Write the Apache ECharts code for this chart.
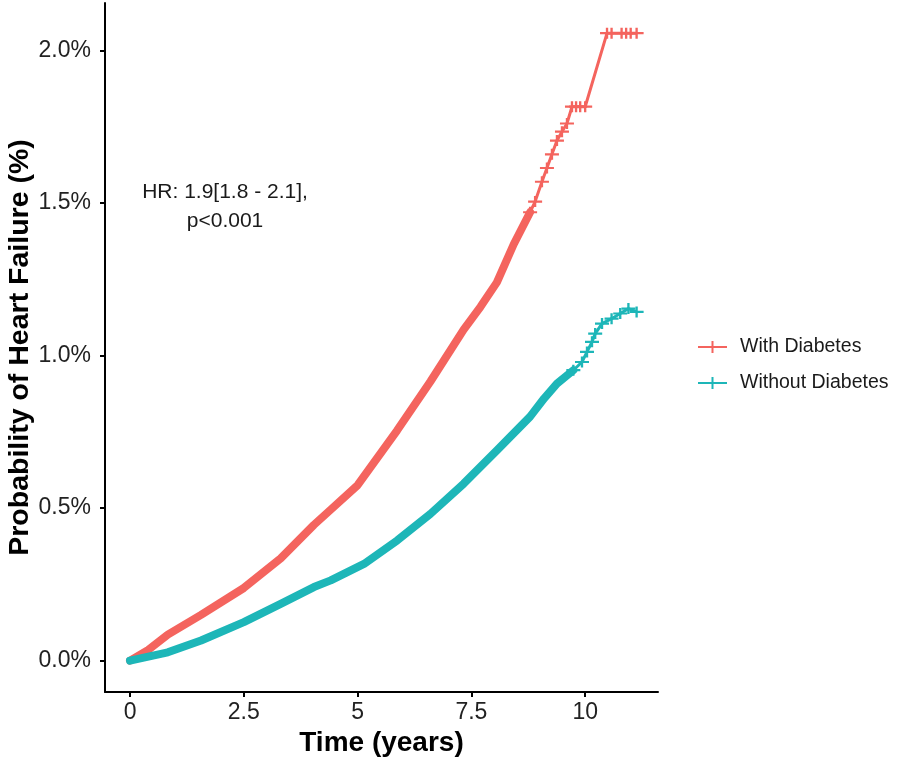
<!DOCTYPE html>
<html>
<head>
<meta charset="utf-8">
<script src="https://cdn.jsdelivr.net/npm/echarts@6/dist/echarts.min.js"></script>
<style>
  html, body { margin: 0; padding: 0; background: #fff; }
  #chart { width: 898px; height: 763px; }
</style>
</head>
<body>
<div id="chart"></div>
<script>
// series names and axis ticks
var seriesNames = ['With Diabetes', 'Without Diabetes'];
var xTicks = [0, 2.5, 5, 7.5, 10];
var yTicks = [0, 0.5, 1, 1.5, 2];

// [time (years), cumulative probability (%)]
// dense part of each curve (many censor marks -> thick band)
var withBand = [
    [0, 0], [0.4, 0.035], [0.83, 0.085], [1.56, 0.15], [2.5, 0.238], [3.31, 0.335],
    [4.04, 0.445], [4.41, 0.495], [5.0, 0.575], [5.87, 0.755], [6.6, 0.915], [7.33, 1.085],
    [7.7, 1.16], [8.06, 1.24], [8.43, 1.365], [8.79, 1.47]
];
var withTail = [
    [8.79, 1.47], [8.9, 1.505], [9.05, 1.57], [9.16, 1.615], [9.27, 1.66], [9.38, 1.705],
    [9.49, 1.734], [9.6, 1.761], [9.71, 1.816], [9.8, 1.816], [9.89, 1.816], [10.0, 1.816],
    [10.48, 2.057], [10.58, 2.057], [10.8, 2.057], [10.9, 2.057], [11.0, 2.057], [11.13, 2.057]
];
var withoutBand = [
    [0, 0], [0.83, 0.027], [1.56, 0.066], [2.5, 0.126], [3.31, 0.186], [4.04, 0.241],
    [4.41, 0.263], [5.14, 0.317], [5.87, 0.394], [6.6, 0.481], [7.33, 0.58], [8.06, 0.689],
    [8.79, 0.8], [9.1, 0.86], [9.38, 0.908], [9.74, 0.952]
];
var withoutTail = [
    [9.74, 0.952], [9.93, 0.979], [10.04, 1.012], [10.15, 1.045], [10.22, 1.072], [10.37, 1.105],
    [10.58, 1.121], [10.77, 1.138], [10.95, 1.154], [11.13, 1.143]
];

var colors = ['#F4645E', '#1DB6B8'];
var font = 'Liberation Sans, Arial, Helvetica, sans-serif';
var plus = 'path://M0,4 H12 V6 H0 Z M5,0 H7 V10 H5 Z';
var legendIcon = 'path://M0,5 H29 V7 H0 Z M13.5,0 H15.5 V12 H13.5 Z';

var chart = echarts.init(document.getElementById('chart'));

function band(name, data, color) {
    return {
        name: name, type: 'line', data: data, symbol: 'none',
        lineStyle: { color: color, width: 8, join: 'round', cap: 'round' },
        itemStyle: { color: color }, animation: false, silent: true
    };
}
function tail(name, data, color) {
    return {
        name: name, type: 'line', data: data, symbol: plus, symbolSize: [14, 11],
        showSymbol: true, showAllSymbol: true,
        lineStyle: { color: color, width: 3 },
        itemStyle: { color: color }, animation: false, silent: true
    };
}

var option = {
    backgroundColor: '#fff',
    textStyle: { fontFamily: font },
    grid: { left: 105, right: 240, top: 3, bottom: 71, containLabel: false, outerBoundsMode: 'none' },
    legend: {
        orient: 'vertical', left: 698, top: 337, padding: 0,
        itemWidth: 29, itemHeight: 12, itemGap: 16,
        data: [
            { name: seriesNames[0], icon: legendIcon, itemStyle: { color: colors[0] } },
            { name: seriesNames[1], icon: legendIcon, itemStyle: { color: colors[1] } }
        ],
        textStyle: { fontSize: 19.5, color: '#1a1a1a', fontFamily: font, lineHeight: 20, padding: [0, 0, 0, 8] }
    },
    xAxis: {
        type: 'value', min: -0.55, max: 11.6,
        name: 'Time (years)', nameLocation: 'middle', nameGap: 36,
        nameTextStyle: { fontSize: 28, fontWeight: 'bold', color: '#000', fontFamily: font },
        axisLine: { onZero: false, lineStyle: { color: '#000', width: 2 } },
        axisTick: { show: true, length: 5, lineStyle: { color: '#000', width: 2 }, customValues: xTicks },
        axisLabel: {
            fontSize: 23, color: '#222', margin: 9, customValues: xTicks,
            formatter: function (v) { return String(v); }
        },
        splitLine: { show: false }
    },
    yAxis: {
        type: 'value', min: -0.103, max: 2.156,
        name: 'Probability of Heart Failure (%)', nameLocation: 'middle', nameGap: 70, nameRotate: 90,
        nameMoveOverlap: false,
        nameTextStyle: { fontSize: 28.5, fontWeight: 'bold', color: '#000', fontFamily: font },
        axisLine: { show: true, onZero: false, lineStyle: { color: '#000', width: 2 } },
        axisTick: { show: true, length: 5, lineStyle: { color: '#000', width: 2 }, customValues: yTicks },
        axisLabel: {
            fontSize: 23, color: '#222', margin: 14, customValues: yTicks,
            formatter: function (v) { return v.toFixed(1) + '%'; }
        },
        splitLine: { show: false }
    },
    graphic: [{
        type: 'text', x: 225, y: 178,
        style: {
            text: 'HR: 1.9[1.8 - 2.1],\np<0.001',
            font: '21px ' + font, lineHeight: 29,
            fill: '#1a1a1a', align: 'center', verticalAlign: 'top'
        }
    }],
    series: [
        band(seriesNames[0], withBand, colors[0]),
        tail(seriesNames[0], withTail, colors[0]),
        band(seriesNames[1], withoutBand, colors[1]),
        tail(seriesNames[1], withoutTail, colors[1])
    ]
};
chart.setOption(option);
</script>
</body>
</html>
